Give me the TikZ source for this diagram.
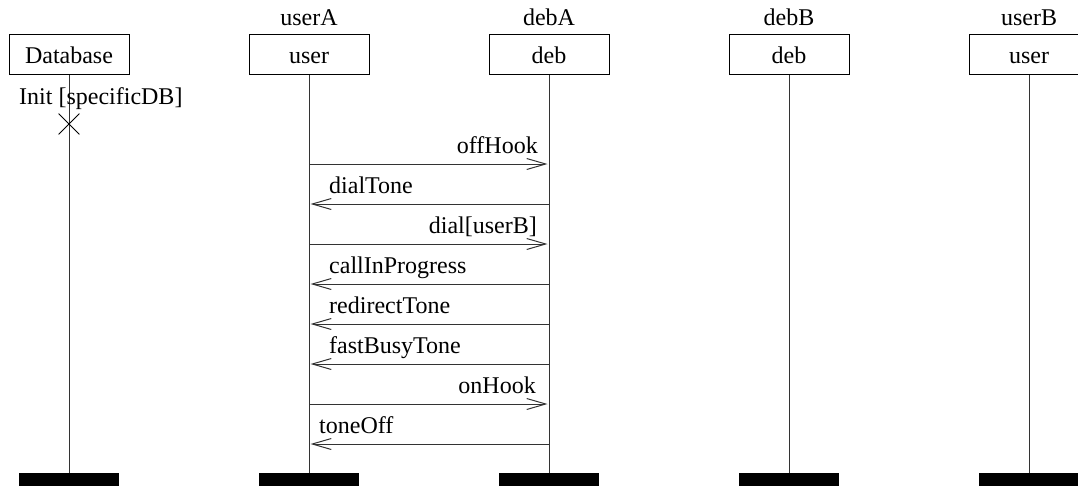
\documentclass[tikz,border=0pt]{standalone}
\usepackage{fontspec}
\setmainfont{Liberation Serif}
\usetikzlibrary{arrows.meta,shapes.misc}
\begin{document}
\begin{tikzpicture}[x=1pt,y=-1pt,
  every node/.style={font=\fontsize{24}{27}\selectfont, inner sep=0pt},
  objbox/.style={draw, line width=1pt, minimum width=120pt, minimum height=40pt,
    text height=20pt, text depth=2pt, anchor=north},
  endbar/.style={fill=black, minimum width=100pt, minimum height=16pt, anchor=north},
  life/.style={line width=1pt, black!80},
  msg/.style={line width=1pt, black!80, shorten >=1.5pt,
    -{Straight Barb[length=19pt,width=11pt,line width=1pt]}},
  rlabel/.style={anchor=base east},
  llabel/.style={anchor=base west}
]
\useasboundingbox (0,0) rectangle (1078,485);

% object boxes
\node[objbox] (db) at (69,34) {Database};
\node[objbox] (uA) at (309,34) {user};
\node[objbox] (dA) at (549,34) {deb};
\node[objbox] (dB) at (789,34) {deb};
\node[objbox] (uB) at (1029,34) {user};

% instance names
\node[anchor=base] (nuA) at (309,25) {userA};
\node[anchor=base] (ndA) at (549,25) {debA};
\node[anchor=base] (ndB) at (789,25) {debB};
\node[anchor=base] (nuB) at (1029,25) {userB};

% end-of-lifeline bars
\node[endbar] (dbEnd) at (69,473) {};
\node[endbar] (uAEnd) at (309,473) {};
\node[endbar] (dAEnd) at (549,473) {};
\node[endbar] (dBEnd) at (789,473) {};
\node[endbar] (uBEnd) at (1029,473) {};

% lifelines
\draw[life] (db.south) -- (dbEnd.north);
\draw[life] (uA.south) -- (uAEnd.north);
\draw[life] (dA.south) -- (dAEnd.north);
\draw[life] (dB.south) -- (dBEnd.north);
\draw[life] (uB.south) -- (uBEnd.north);

% database initialisation
\node[anchor=base west] (init) at (19,104) {Init [specificDB]};
\node[draw, cross out, line width=0.8pt, minimum size=20pt] (kill) at (69,124) {};

% message anchor points on the userA and debA lifelines
\foreach \i in {1,...,8} {
  \coordinate (ua\i) at (309,124+40*\i);
  \coordinate (da\i) at (549,124+40*\i);
}

% messages
\draw[msg] (ua1) -- (da1);
\node[rlabel] (m1) at (538,153) {offHook};
\draw[msg] (da2) -- (ua2);
\node[llabel] (m2) at (329,193) {dialTone};
\draw[msg] (ua3) -- (da3);
\node[rlabel] (m3) at (537,233) {dial[userB]};
\draw[msg] (da4) -- (ua4);
\node[llabel] (m4) at (329,273) {callInProgress};
\draw[msg] (da5) -- (ua5);
\node[llabel] (m5) at (329,313) {redirectTone};
\draw[msg] (da6) -- (ua6);
\node[llabel] (m6) at (329,353) {fastBusyTone};
\draw[msg] (ua7) -- (da7);
\node[rlabel] (m7) at (536,393) {onHook};
\draw[msg] (da8) -- (ua8);
\node[llabel] (m8) at (319,433) {toneOff};
\end{tikzpicture}
\end{document}
